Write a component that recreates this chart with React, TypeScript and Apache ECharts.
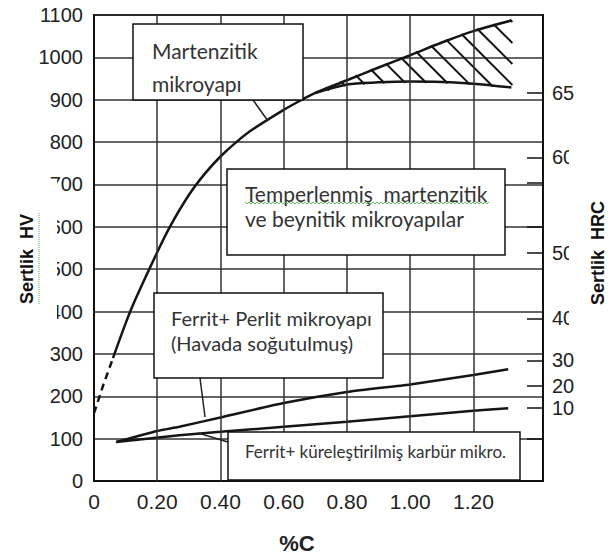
import React, { useEffect, useRef } from 'react';
import * as echarts from 'echarts';

// X axis (% C)
const xGridLines = [0.2, 0.4, 0.6, 0.8, 1.0, 1.2];

// Martensite curve (dashed start, then solid)
const martDashedX = [0, 0.03, 0.06];
const martDashedHV = [160, 228, 290];
const martX = [0.06, 0.1, 0.13, 0.2, 0.24, 0.3, 0.35, 0.4, 0.45, 0.5, 0.6, 0.65, 0.7, 0.8, 0.9, 1.0, 1.1, 1.2, 1.32];
const martHV = [290, 372, 427, 540, 600, 675, 725, 766, 800, 829, 876, 897, 916, 946, 976, 1005, 1035, 1062, 1087];

// Hatched band: lower boundary (tempered) and upper boundary
const bandX = [0.7, 0.8, 0.9, 1.0, 1.1, 1.2, 1.32];
const bandLowerHV = [916, 936, 941, 943, 942, 938, 929];
const bandUpperHV = [916, 946, 976, 1005, 1035, 1062, 1087];

// Ferrite + pearlite (air cooled)
const pearliteX = [0.07, 0.2, 0.27, 0.4, 0.6, 0.8, 1.0, 1.2, 1.31];
const pearliteHV = [92, 118, 128, 150, 184, 210, 228, 250, 264];

// Ferrite + spheroidized carbide
const spheroX = [0.07, 0.27, 0.4, 0.6, 0.8, 1.0, 1.2, 1.31];
const spheroHV = [92, 108, 116, 128, 140, 153, 166, 172];

// Right axis (HRC) labels placed at their HV equivalents
const hrcLabels = ['65', '60', '50', '40', '30', '20', '10'];
const hrcAtHV = [917, 764, 538, 384, 285, 224, 172];
const hrcExtraTickHV = [703, 600, 99];

const zip = (xs: number[], ys: number[]) => xs.map((x, i) => [x, ys[i]]);

const AXIS_FONT = '"Liberation Sans", Arial, sans-serif';
const BOX_FONT = 'Lato, "Noto Sans", sans-serif';

function hit(poly: number[][], k: number): number[] | null {
  for (let i = 0; i < poly.length - 1; i++) {
    const p1 = poly[i], p2 = poly[i + 1];
    const f1 = p1[1] - p1[0] - k, f2 = p2[1] - p2[0] - k;
    if (f1 === 0) return p1;
    if (f1 * f2 < 0) {
      const t = f1 / (f1 - f2);
      return [p1[0] + t * (p2[0] - p1[0]), p1[1] + t * (p2[1] - p1[1])];
    }
  }
  return null;
}

export default function App() {
  const ref = useRef<HTMLDivElement>(null);
  useEffect(() => {
    if (!ref.current) return;
    const chart = echarts.init(ref.current, undefined, { renderer: 'svg' });

    const lineBase = { type: 'line', showSymbol: false, symbol: 'none', silent: true };
    const black = '#151515';

    const wave: number[][] = [];
    for (let x = 245, i = 0; x <= 490; x += 2, i++) wave.push([x, 203 + (i % 2 === 0 ? -1 : 1)]);

    const box = (x: number, y: number, w: number, h: number) => ({
      type: 'rect', z: 100, shape: { x, y, width: w, height: h },
      style: { fill: '#fff', stroke: '#111', lineWidth: 1.5 },
    });
    const txt = (x: number, y: number, text: string, size: number) => ({
      type: 'text', z: 101, x, y,
      style: { text, font: `${size}px ${BOX_FONT}`, fill: '#333', align: 'left', verticalAlign: 'middle' },
    });
    const seg = (x1: number, y1: number, x2: number, y2: number) => ({
      type: 'line', z: 50, shape: { x1, y1, x2, y2 }, style: { stroke: '#222', lineWidth: 1.5 },
    });

    chart.setOption({
      animation: false,
      backgroundColor: '#fff',
      grid: { left: 94, right: 68, top: 15, bottom: 77, show: true, borderColor: '#111', borderWidth: 2, backgroundColor: '#fff' },
      xAxis: {
        type: 'value', min: 0, max: 1.42, interval: 0.2,
        splitLine: { show: false }, axisTick: { show: false },
        axisLine: { lineStyle: { color: '#111', width: 2 } },
        axisLabel: {
          fontSize: 21, color: '#222', fontFamily: AXIS_FONT, margin: 10,
          formatter: (v: number) => (v > 1.3 ? '' : v === 0 ? '0' : v.toFixed(2)),
        },
      },
      yAxis: [
        {
          type: 'value', min: 0, max: 1100, interval: 100,
          splitLine: { lineStyle: { color: '#333', width: 1.5 } },
          axisTick: { show: false },
          axisLine: { show: true, lineStyle: { color: '#111', width: 2 } },
          axisLabel: { fontSize: 20, color: '#222', fontFamily: AXIS_FONT, margin: 11, formatter: (v: number) => String(v) },
        },
        {
          type: 'value', position: 'right', min: 0, max: 1100,
          splitLine: { show: false },
          axisLine: { show: true, lineStyle: { color: '#111', width: 2 } },
          axisTick: { show: true, inside: true, length: 16, customValues: [...hrcAtHV, ...hrcExtraTickHV], lineStyle: { color: '#111', width: 1.5 } },
          axisLabel: {
            customValues: hrcAtHV, fontSize: 20, color: '#222', fontFamily: AXIS_FONT, margin: 9,
            formatter: (v: number) => { const i = hrcAtHV.indexOf(v); return i >= 0 ? hrcLabels[i] : ''; },
          },
        },
      ],
      series: [
        {
          ...lineBase, name: 'grid', data: [],
          markLine: {
            silent: true, symbol: ['none', 'none'], label: { show: false },
            lineStyle: { color: '#333', width: 1.5, type: 'solid' },
            data: xGridLines.map((v) => ({ xAxis: v })),
          },
        },
        { ...lineBase, name: 'martDashed', data: zip(martDashedX, martDashedHV), lineStyle: { color: black, width: 2.5, type: [7, 5] } },
        { ...lineBase, name: 'martensite', data: zip(martX, martHV), smooth: 0.35, lineStyle: { color: black, width: 2.5 } },
        { ...lineBase, name: 'bandLower', data: zip(bandX, bandLowerHV), smooth: 0.3, lineStyle: { color: black, width: 2.5 } },
        {
          type: 'custom', name: 'hatch', silent: true, coordinateSystem: 'cartesian2d',
          data: [[bandX[0], bandLowerHV[0]]],
          renderItem: (_params: any, api: any) => {
            const up = bandX.map((x, i) => api.coord([x, bandUpperHV[i]]));
            const lo = bandX.map((x, i) => api.coord([x, bandLowerHV[i]]));
            const k0 = lo[0][1] - lo[0][0];
            const last = up.length - 1;
            const kEnd = up[last][1] - up[last][0];
            const xe = lo[last][0];
            const children: any[] = [];
            for (let k = k0 - 16; k > kEnd; k -= 21) {
              const A = hit(up, k);
              if (!A) continue;
              const B = hit(lo, k) || [xe, xe + k];
              children.push({
                type: 'line',
                shape: { x1: A[0] - 1, y1: A[1] - 1, x2: B[0] + 1, y2: B[1] + 1 },
                style: { stroke: '#151515', lineWidth: 2 },
              });
            }
            return { type: 'group', children };
          },
        },
        { ...lineBase, name: 'pearlite', data: zip(pearliteX, pearliteHV), smooth: 0.2, lineStyle: { color: black, width: 2.5 } },
        { ...lineBase, name: 'sphero', data: zip(spheroX, spheroHV), smooth: 0.2, lineStyle: { color: black, width: 2.5 } },
      ],
      graphic: [
        // covers that clip tick labels (as in reference)
        { type: 'rect', z: 90, shape: { x: 2, y: 179, width: 55, height: 148 }, style: { fill: '#fff' } },
        { type: 'rect', z: 90, shape: { x: 569, y: 140, width: 42, height: 195 }, style: { fill: '#fff' } },
        { type: 'line', z: 95, shape: { x1: 39, y1: 213, x2: 39, y2: 305 }, style: { stroke: '#5a5', lineWidth: 1, lineDash: [1, 1] } },
        {
          type: 'text', z: 100, x: 27, y: 259, rotation: Math.PI / 2,
          style: { text: 'Sertlik  HV', font: `bold 18px ${AXIS_FONT}`, fill: '#111', align: 'center', verticalAlign: 'middle' },
        },
        {
          type: 'text', z: 100, x: 598, y: 253, rotation: Math.PI / 2,
          style: { text: 'Sertlik  HRC', font: `bold 18px ${AXIS_FONT}`, fill: '#111', align: 'center', verticalAlign: 'middle' },
        },
        {
          type: 'text', z: 100, x: 297, y: 543,
          style: { text: '%C', font: `bold 22px ${AXIS_FONT}`, fill: '#222', align: 'center', verticalAlign: 'middle' },
        },
        // leader lines
        seg(253, 100, 268, 121),
        seg(200, 378, 205, 417),
        seg(198, 433, 228, 442),
        // annotation boxes
        box(133, 24, 170, 76),
        txt(152, 50, 'Martenzitik', 21),
        txt(152, 83, 'mikroyapı', 21),
        box(227, 169, 278, 86),
        txt(245, 193, 'Temperlenmiş  martenzitik', 21),
        txt(245, 218, 've beynitik mikroyapılar', 21),
        { type: 'polyline', z: 102, shape: { points: wave }, style: { stroke: '#6b6', lineWidth: 1, fill: 'none' } },
        box(154, 293, 229, 85),
        txt(171, 318, 'Ferrit+ Perlit mikroyapı', 20),
        txt(171, 343, '(Havada soğutulmuş)', 20),
        box(228, 432, 292, 48),
        txt(245, 451, 'Ferrit+ küreleştirilmiş karbür mikro.', 17),
      ],
    });
    return () => chart.dispose();
  }, []);
  return <div ref={ref} style={{ position: 'fixed', left: 0, top: 0, width: 611, height: 558, background: '#fff' }} />;
}
